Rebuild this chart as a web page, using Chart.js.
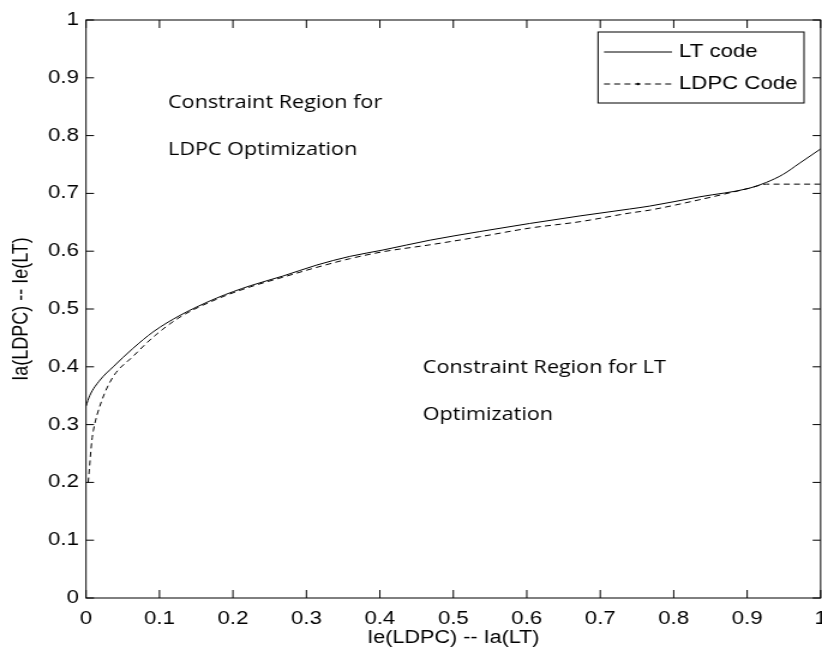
<!DOCTYPE html>
<html>
<head>
<meta charset="utf-8">
<script src="https://cdn.jsdelivr.net/npm/chart.js@4.4.1/dist/chart.umd.min.js"></script>
<style>
    html, body { margin: 0; padding: 0; background: #fff; overflow: hidden; }
    /* the reference figure is stretched sideways, so the whole canvas is too */
    #wrap { width: 699px; height: 656px; transform: scaleX(1.2); transform-origin: 0 0; }
</style>
</head>
<body>
<div id="wrap"><canvas id="chart" width="699" height="656"></canvas></div>
<script>
// Series
const ltX   = [0, 0.005, 0.019, 0.037, 0.064, 0.092, 0.128, 0.178, 0.223, 0.268, 0.314, 0.359, 0.404, 0.468, 0.536, 0.604, 0.672, 0.740, 0.767, 0.835, 0.903, 0.926, 0.949, 0.971, 1.0];
const ltY   = [0.332, 0.350, 0.377, 0.400, 0.432, 0.461, 0.489, 0.519, 0.540, 0.557, 0.576, 0.591, 0.602, 0.619, 0.634, 0.648, 0.661, 0.673, 0.678, 0.694, 0.709, 0.719, 0.733, 0.752, 0.777];
const ldpcX = [0.003, 0.008, 0.010, 0.021, 0.037, 0.064, 0.092, 0.128, 0.178, 0.223, 0.268, 0.314, 0.359, 0.404, 0.468, 0.536, 0.604, 0.672, 0.740, 0.767, 0.835, 0.903, 0.926, 1.0];
const ldpcY = [0.200, 0.273, 0.290, 0.340, 0.383, 0.418, 0.452, 0.486, 0.517, 0.538, 0.555, 0.572, 0.587, 0.599, 0.611, 0.625, 0.640, 0.651, 0.666, 0.671, 0.689, 0.709, 0.716, 0.716];

const seriesNames = ['LT code', 'LDPC Code'];
const xTicks = [0, 0.1, 0.2, 0.3, 0.4, 0.5, 0.6, 0.7, 0.8, 0.9, 1];
const yTicks = [0, 0.1, 0.2, 0.3, 0.4, 0.5, 0.6, 0.7, 0.8, 0.9, 1];
const xTitle = 'Ie(LDPC) -- Ia(LT)';
const yTitle = 'Ia(LDPC) -- Ie(LT)';

// Text written inside the axes, anchored in data units
const notes = [
    { text: 'Constraint Region for', x: 0.1116, y: 0.848 },
    { text: 'LDPC Optimization', x: 0.1116, y: 0.766 },
    { text: 'Constraint Region for LT', x: 0.4585, y: 0.389 },
    { text: 'Optimization', x: 0.4585, y: 0.308 }
];

const SX = 1.2; // horizontal stretch of the wrapper
const axisFont = { family: '"Liberation Sans", Arial, sans-serif', size: 18.5 };

function toPoints(xs, ys) {
    return xs.map((x, i) => ({ x: x, y: ys[i] }));
}

function fmt(v) {
    return String(Number(v.toFixed(1)));
}

// Box round the axes with inward ticks on all four sides
const framePlugin = {
    id: 'frame',
    afterDatasetsDraw(chart) {
        const { ctx, chartArea: a, scales } = chart;
        ctx.save();
        ctx.strokeStyle = '#000';
        ctx.lineWidth = 1;
        ctx.strokeRect(a.left, a.top, a.right - a.left, a.bottom - a.top);
        ctx.beginPath();
        xTicks.forEach(v => {
            const px = scales.x.getPixelForValue(v);
            ctx.moveTo(px, a.bottom); ctx.lineTo(px, a.bottom - 8);
            ctx.moveTo(px, a.top); ctx.lineTo(px, a.top + 8);
        });
        yTicks.forEach(v => {
            const py = scales.y.getPixelForValue(v);
            ctx.moveTo(a.left, py); ctx.lineTo(a.left + 8 / SX, py);
            ctx.moveTo(a.right, py); ctx.lineTo(a.right - 8 / SX, py);
        });
        ctx.stroke();
        ctx.restore();
    }
};

const notesPlugin = {
    id: 'notes',
    afterDatasetsDraw(chart) {
        const { ctx, scales } = chart;
        ctx.save();
        ctx.fillStyle = '#000';
        ctx.font = '18px "Open Sans", sans-serif';
        ctx.textBaseline = 'alphabetic';
        ctx.textAlign = 'left';
        notes.forEach(n => {
            ctx.fillText(n.text, scales.x.getPixelForValue(n.x), scales.y.getPixelForValue(n.y));
        });
        ctx.restore();
    }
};

// MATLAB style legend in the top right corner
const legendPlugin = {
    id: 'boxLegend',
    afterDraw(chart) {
        const { ctx } = chart;
        const left = 598 / SX, right = 804 / SX, top = 32, bottom = 103;
        ctx.save();
        ctx.fillStyle = '#fff';
        ctx.fillRect(left, top, right - left, bottom - top);
        ctx.strokeStyle = '#000';
        ctx.lineWidth = 1;
        ctx.strokeRect(left, top, right - left, bottom - top);

        const x0 = 604 / SX, x1 = 672 / SX, tx = 679 / SX;
        chart.data.datasets.forEach((ds, i) => {
            const y = 52 + i * 32;
            ctx.setLineDash(ds.borderDash || []);
            ctx.beginPath();
            ctx.moveTo(x0, y);
            ctx.lineTo(x1, y);
            ctx.stroke();
            ctx.setLineDash([]);
            if (ds.borderDash) {
                ctx.fillStyle = '#000';
                ctx.beginPath();
                ctx.arc((x0 + x1) / 2, y, 1.3, 0, Math.PI * 2);
                ctx.fill();
            }
            ctx.fillStyle = '#000';
            ctx.font = axisFont.size + 'px ' + axisFont.family;
            ctx.textBaseline = 'middle';
            ctx.fillText(ds.label, tx, y);
        });
        ctx.restore();
    }
};

const ctx = document.getElementById('chart').getContext('2d');
new Chart(ctx, {
    type: 'line',
    data: {
        datasets: [
            {
                label: seriesNames[0],
                data: toPoints(ltX, ltY),
                borderColor: '#000',
                borderWidth: 1,
                pointRadius: 0,
                cubicInterpolationMode: 'monotone',
                fill: false
            },
            {
                label: seriesNames[1],
                data: toPoints(ldpcX, ldpcY),
                borderColor: '#000',
                borderWidth: 1,
                borderDash: [5, 3.5],
                pointRadius: 0,
                cubicInterpolationMode: 'monotone',
                fill: false
            }
        ]
    },
    options: {
        responsive: false,
        animation: false,
        layout: { autoPadding: false, padding: { top: 20, right: 7.8, left: 0, bottom: 0 } },
        plugins: {
            legend: { display: false },
            tooltip: { enabled: false }
        },
        scales: {
            x: {
                type: 'linear',
                min: 0,
                max: 1,
                afterBuildTicks: s => { s.ticks = xTicks.map(v => ({ value: v })); },
                afterFit: s => { s.height = 58; },
                grid: { display: false, drawTicks: false },
                border: { display: false },
                ticks: {
                    autoSkip: false,
                    maxRotation: 0,
                    padding: 10,
                    color: '#000',
                    font: axisFont,
                    callback: v => fmt(v)
                },
                title: {
                    display: true,
                    text: xTitle,
                    color: '#000',
                    font: { family: axisFont.family, size: 18 },
                    padding: { top: 0, bottom: 7.2 }
                }
            },
            y: {
                type: 'linear',
                min: 0,
                max: 1,
                afterBuildTicks: s => { s.ticks = yTicks.map(v => ({ value: v })); },
                afterFit: s => { s.width = 86 / SX; },
                grid: { display: false, drawTicks: false },
                border: { display: false },
                ticks: {
                    autoSkip: false,
                    padding: 6,
                    color: '#000',
                    font: axisFont,
                    callback: v => fmt(v)
                },
                title: {
                    display: true,
                    text: yTitle,
                    color: '#000',
                    font: { family: axisFont.family, size: 18 },
                    padding: { top: 7.5, bottom: 0 }
                }
            }
        }
    },
    plugins: [framePlugin, notesPlugin, legendPlugin]
});
</script>
</body>
</html>
